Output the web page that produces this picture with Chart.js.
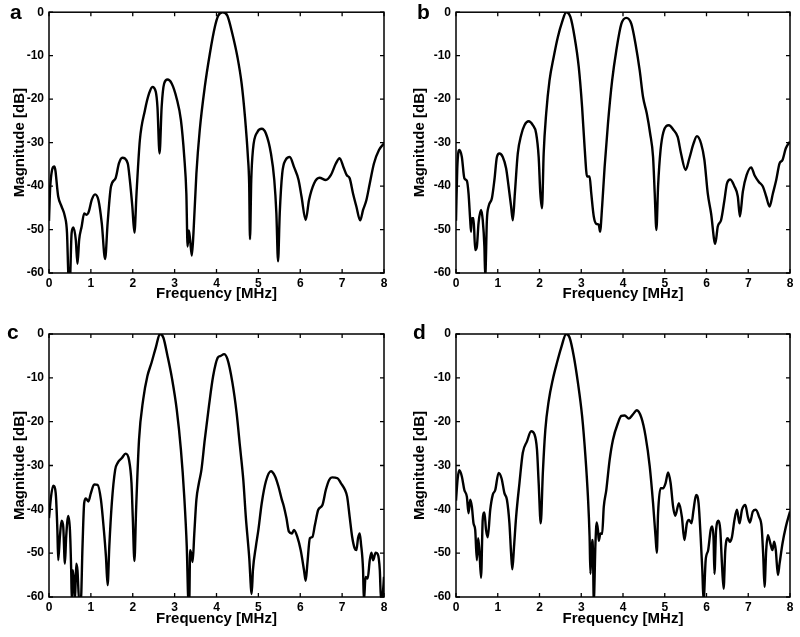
<!DOCTYPE html>
<html lang="en">
<head>
    <meta charset="UTF-8">
    <title>Magnitude spectra a-d</title>
    <script src="https://cdn.jsdelivr.net/npm/chart.js"></script>
    <style>
        body {
            margin: 0;
            background: #fff;
            width: 800px;
            height: 637px;
            position: relative;
            overflow: hidden;
        }

        canvas {
            position: absolute;
        }
    </style>
</head>
<body>

    <canvas id="chartA" width="400" height="318" style="left:0;top:0"></canvas>
    <canvas id="chartB" width="400" height="318" style="left:400px;top:0"></canvas>
    <canvas id="chartC" width="400" height="317" style="left:0;top:320px"></canvas>
    <canvas id="chartD" width="400" height="317" style="left:400px;top:320px"></canvas>

    <script>
        // panel a
        const freqA = [0, 0.03, 0.13, 0.22, 0.30, 0.38, 0.43, 0.46, 0.48, 0.50,
            0.51, 0.54, 0.58, 0.64, 0.68, 0.72, 0.78, 0.84, 0.90, 0.95,
            1.02, 1.10, 1.18, 1.26, 1.34, 1.40, 1.48, 1.59, 1.67, 1.75,
            1.88, 1.93, 1.99, 2.04, 2.09, 2.17, 2.29, 2.39, 2.47, 2.55,
            2.59, 2.64, 2.69, 2.75, 2.83, 2.93, 3.05, 3.15, 3.23, 3.28,
            3.31, 3.34, 3.37, 3.41, 3.45, 3.52, 3.60, 3.72, 3.84, 3.96,
            4.04, 4.15, 4.26, 4.38, 4.50, 4.60, 4.68, 4.75, 4.78, 4.80,
            4.83, 4.87, 4.98, 5.08, 5.18, 5.30, 5.38, 5.43, 5.47, 5.51,
            5.57, 5.65, 5.75, 5.85, 5.96, 6.03, 6.13, 6.21, 6.33, 6.46,
            6.61, 6.73, 6.85, 6.94, 7.03, 7.11, 7.18, 7.26, 7.34, 7.43,
            7.50, 7.58, 7.66, 7.76, 7.88, 8.0];
        const magA = [-48, -40, -35.5, -42.4, -44.7, -47, -50.8, -60, -64, -64,
            -60, -50.8, -49.5, -52.4, -57.9, -52.4, -49.3, -46.3, -46.6, -45.9,
            -43.2, -41.9, -43.2, -48.5, -56.8, -48.5, -40.1, -38.2, -34.8, -33.5,
            -34.8, -38.6, -44.7, -50.7, -41.7, -29.4, -22.6, -18.7, -17.2, -18.3,
            -21.8, -32.5, -21.8, -16.4, -15.5, -16.4, -19.9, -24.8, -33.3, -41.7,
            -53.9, -50.2, -52.4, -56.0, -50.8, -37.1, -27.1, -17.2, -9.6, -3.4,
            -0.8, 0, -0.8, -5, -10.3, -16.4, -24.1, -33.3, -39.4, -52.2,
            -38.6, -31.7, -27.5, -26.8, -27.9, -32.5, -38.6, -46.3, -57.3, -46.3,
            -37.1, -34.0, -33.3, -35.6, -38.6, -42.4, -47.8, -43.2, -39.4, -38.1,
            -38.6, -37.5, -34.8, -33.6, -35.6, -37.5, -38.2, -41.7, -44.7, -47.9,
            -45.5, -43.2, -39.4, -34.8, -31.7, -30.2];

        // panel b
        const freqB = [0, 0.03, 0.08, 0.14, 0.20, 0.26, 0.30, 0.34, 0.36, 0.38,
            0.42, 0.46, 0.50, 0.54, 0.60, 0.64, 0.68, 0.70, 0.74, 0.78,
            0.86, 0.92, 0.98, 1.04, 1.12, 1.20, 1.26, 1.32, 1.36, 1.41,
            1.48, 1.56, 1.64, 1.74, 1.84, 1.92, 1.98, 2.02, 2.06, 2.10,
            2.16, 2.24, 2.34, 2.44, 2.54, 2.64, 2.74, 2.84, 2.94, 3.02,
            3.08, 3.14, 3.20, 3.24, 3.30, 3.36, 3.42, 3.45, 3.50, 3.56,
            3.64, 3.74, 3.84, 3.96, 4.08, 4.20, 4.30, 4.40, 4.48, 4.57,
            4.65, 4.72, 4.76, 4.80, 4.84, 4.90, 4.97, 5.10, 5.21, 5.31,
            5.39, 5.50, 5.59, 5.69, 5.77, 5.87, 5.95, 6.03, 6.11, 6.21,
            6.27, 6.35, 6.43, 6.49, 6.57, 6.67, 6.75, 6.80, 6.87, 6.96,
            7.07, 7.15, 7.25, 7.35, 7.43, 7.51, 7.59, 7.67, 7.75, 7.82,
            7.90, 8.0];
        const magB = [-48, -36, -31.7, -33.3, -38.2, -38.8, -41.7, -47.8, -50.5, -47.4,
            -47.4, -54.7, -53.9, -48.5, -45.5, -47.8, -53.9, -61, -47.8, -44.7,
            -42.8, -38.6, -33.3, -32.5, -33.3, -35.9, -40.1, -44.7, -47.9, -41.7,
            -32.5, -28.3, -26.0, -25.1, -26.0, -27.9, -33.3, -41.7, -45.1, -32.5,
            -23.3, -15.7, -10.3, -5.7, -2.3, 0, -1.1, -5.7, -12.6, -21.8,
            -31.0, -37.8, -37.8, -41.7, -47.0, -48.7, -48.9, -50.5, -44.7, -35.6,
            -25.6, -15.7, -8.8, -2.7, -1.3, -2.7, -7.3, -13.4, -19.5, -23.3,
            -27.9, -33.3, -41.7, -50.1, -40.1, -31.7, -27.5, -26.0, -27.1, -28.7,
            -32.5, -36.3, -33.6, -30.2, -28.5, -30.2, -34.0, -41.7, -46.3, -53.3,
            -49.3, -47.8, -43.2, -39.4, -38.5, -40.1, -42.4, -47.0, -41.3, -37.5,
            -35.7, -37.5, -39.0, -40.1, -42.4, -44.7, -41.7, -38.6, -34.8, -34.0,
            -31.3, -29.8];

        // panel c
        const freqC = [0, 0.05, 0.10, 0.16, 0.20, 0.22, 0.26, 0.30, 0.34, 0.38,
            0.41, 0.46, 0.50, 0.53, 0.545, 0.57, 0.60, 0.62, 0.65, 0.68,
            0.72, 0.76, 0.80, 0.84, 0.88, 0.94, 1.00, 1.08, 1.16, 1.24,
            1.31, 1.36, 1.40, 1.44, 1.50, 1.58, 1.64, 1.74, 1.83, 1.91,
            1.97, 2.00, 2.04, 2.08, 2.15, 2.25, 2.35, 2.45, 2.55, 2.65,
            2.73, 2.83, 2.94, 3.05, 3.15, 3.23, 3.29, 3.33, 3.35, 3.37,
            3.40, 3.43, 3.47, 3.52, 3.58, 3.64, 3.72, 3.82, 3.92, 4.03,
            4.10, 4.18, 4.26, 4.38, 4.48, 4.56, 4.64, 4.70, 4.78, 4.84,
            4.87, 4.94, 5.00, 5.08, 5.18, 5.30, 5.40, 5.48, 5.56, 5.61,
            5.67, 5.73, 5.80, 5.85, 5.93, 6.01, 6.09, 6.13, 6.17, 6.23,
            6.29, 6.35, 6.43, 6.53, 6.61, 6.69, 6.76, 6.89, 6.97, 7.07,
            7.12, 7.18, 7.24, 7.30, 7.34, 7.38, 7.42, 7.45, 7.50, 7.52,
            7.56, 7.61, 7.66, 7.70, 7.74, 7.80, 7.85, 7.90, 7.93, 7.97,
            8.0];
        const magC = [-42, -37, -34.6, -36.3, -44.7, -51.6, -46.3, -42.6, -44, -52.4,
            -46.3, -41.5, -44.7, -53.9, -61, -53.9, -57, -61, -52.4, -53.9,
            -61, -61, -48.5, -38.6, -37.5, -38.2, -36.3, -34.3, -34.4, -37.8,
            -44.7, -50.8, -57.3, -48.5, -38.6, -31.0, -29.4, -28.3, -27.3, -28.7,
            -34.0, -41.7, -51.8, -40.1, -24.1, -14.9, -9.6, -6.5, -3.1, 0,
            -0.8, -5.0, -10.3, -17.2, -26.4, -37.1, -48.5, -61, -61, -49.3,
            -50.2, -52, -45.5, -37.8, -34.0, -31.0, -24.1, -16.4, -9.6, -5.4,
            -5.0, -4.6, -5.7, -11.1, -18.0, -25.6, -33.3, -41.7, -50.8, -59.3,
            -53.9, -48.5, -44.7, -38.6, -33.6, -31.3, -32.5, -34.8, -37.8, -39.4,
            -42.0, -45.1, -45.5, -44.7, -46.3, -49.3, -53.9, -56.3, -52.4, -46.6,
            -46.3, -43.6, -40.1, -39.0, -35.6, -33.3, -32.7, -32.9, -34.0, -35.6,
            -37.1, -41.7, -46.3, -48.9, -49.3, -46.6, -45.5, -47.8, -53.9, -61,
            -55.4, -55.8, -51.6, -49.9, -51.6, -49.9, -50.2, -53.9, -61, -59.3,
            -55.4];

        // panel d
        const freqD = [0, 0.04, 0.08, 0.14, 0.20, 0.26, 0.30, 0.34, 0.38, 0.42,
            0.46, 0.50, 0.53, 0.56, 0.60, 0.64, 0.68, 0.72, 0.76, 0.82,
            0.88, 0.94, 1.02, 1.09, 1.16, 1.22, 1.28, 1.32, 1.35, 1.39,
            1.44, 1.52, 1.60, 1.70, 1.80, 1.88, 1.94, 1.98, 2.03, 2.08,
            2.14, 2.22, 2.32, 2.42, 2.52, 2.64, 2.72, 2.82, 2.92, 3.02,
            3.10, 3.16, 3.20, 3.22, 3.26, 3.28, 3.30, 3.34, 3.37, 3.40,
            3.42, 3.46, 3.50, 3.54, 3.60, 3.68, 3.76, 3.88, 3.96, 4.04,
            4.14, 4.24, 4.33, 4.44, 4.54, 4.64, 4.72, 4.78, 4.81, 4.84,
            4.90, 4.96, 5.02, 5.08, 5.14, 5.20, 5.25, 5.34, 5.41, 5.47,
            5.53, 5.58, 5.64, 5.69, 5.75, 5.81, 5.86, 5.90, 5.93, 5.98,
            6.04, 6.10, 6.14, 6.17, 6.19, 6.23, 6.29, 6.33, 6.37, 6.41,
            6.45, 6.51, 6.56, 6.61, 6.67, 6.73, 6.79, 6.85, 6.93, 6.99,
            7.04, 7.11, 7.18, 7.26, 7.32, 7.36, 7.39, 7.43, 7.47, 7.53,
            7.58, 7.62, 7.66, 7.71, 7.75, 7.82, 7.90, 8.0];
        const magD = [-38, -33, -31.1, -32.5, -35.6, -37.1, -40.9, -37.8, -39.4, -43.2,
            -44.7, -51.6, -46.6, -49.3, -55.6, -42.4, -40.7, -44.7, -46.4, -40.1,
            -36.7, -35.6, -31.7, -32.9, -36.3, -37.8, -43.2, -50.1, -53.7, -48.5,
            -41.7, -34.0, -27.1, -24.5, -22.2, -22.9, -26.4, -34.0, -43.2, -31.7,
            -21.8, -15.3, -10.3, -6.5, -3.1, 0, -0.8, -5.0, -11.1, -18.7,
            -27.9, -37.1, -46.3, -54.7, -47.0, -49.3, -61, -47.8, -43.0, -44.7,
            -47.2, -45.5, -45.6, -39.4, -35.6, -28.7, -24.1, -20.3, -18.7, -18.6,
            -19.3, -18.3, -17.4, -19.1, -23.3, -30.2, -38.6, -46.3, -49.9, -40.9,
            -35.2, -35.2, -34.0, -31.6, -34.0, -39.4, -41.5, -38.6, -41.7, -47.0,
            -43.2, -42.4, -43.2, -40.1, -36.7, -38.6, -46.3, -53.9, -61, -51.6,
            -49.3, -44.7, -43.9, -47.0, -54.7, -44.7, -42.6, -44.7, -52.4, -58.1,
            -49.3, -46.6, -47.4, -46.3, -42.4, -40.1, -43.2, -40.1, -39.0, -41.7,
            -43.0, -40.5, -40.1, -41.7, -44.0, -50.8, -57.7, -49.3, -45.9, -47.8,
            -49.3, -47.4, -49.3, -55.0, -52.4, -47.8, -44.0, -40.5];

        const xTicks = [0, 1, 2, 3, 4, 5, 6, 7, 8];
        const yTicks = [-60, -50, -40, -30, -20, -10, 0];

        const FONT = "'Liberation Sans', Arial, sans-serif";

        // box, inward ticks on all four sides, panel letter
        const framePlugin = {
            id: "frame",
            afterDraw(chart, args, opts) {
                const { ctx, chartArea: a, scales } = chart;
                ctx.save();
                ctx.strokeStyle = "#000";
                ctx.lineWidth = 1.5;
                ctx.strokeRect(a.left, a.top, a.right - a.left, a.bottom - a.top);
                ctx.lineWidth = 1.3;
                ctx.beginPath();
                xTicks.forEach(v => {
                    let px = scales.x.getPixelForValue(v);
                    ctx.moveTo(px, a.bottom); ctx.lineTo(px, a.bottom - 4);
                    ctx.moveTo(px, a.top); ctx.lineTo(px, a.top + 4);
                });
                yTicks.forEach(v => {
                    let py = scales.y.getPixelForValue(v);
                    ctx.moveTo(a.left, py); ctx.lineTo(a.left + 4, py);
                    ctx.moveTo(a.right, py); ctx.lineTo(a.right - 4, py);
                });
                ctx.stroke();
                ctx.fillStyle = "#000";
                ctx.font = "bold 21px " + FONT;
                ctx.textBaseline = "alphabetic";
                ctx.fillText(opts.letter, opts.lx, 18.5);
                ctx.restore();
            }
        };

        function makePanel(id, letter, freq, mag, layout) {
            let points = freq.map((f, i) => ({ x: f, y: mag[i] }));
            return new Chart(document.getElementById(id), {
                type: "line",
                data: {
                    datasets: [{
                        data: points,
                        borderColor: "#000",
                        borderWidth: 2.4,
                        pointRadius: 0,
                        cubicInterpolationMode: "monotone",
                        fill: false,
                        clip: 0
                    }]
                },
                options: {
                    responsive: false,
                    animation: false,
                    layout: { padding: layout.pad },
                    plugins: {
                        legend: { display: false },
                        tooltip: { enabled: false },
                        frame: { letter: letter, lx: layout.lx }
                    },
                    scales: {
                        x: {
                            type: "linear",
                            min: 0,
                            max: 8,
                            afterFit: s => { s.height = layout.xh; },
                            afterBuildTicks: s => { s.ticks = xTicks.map(v => ({ value: v })); },
                            grid: { display: false, drawTicks: false },
                            border: { display: false },
                            ticks: { color: "#000", padding: 3, font: { family: FONT, size: 12, weight: "bold" } },
                            title: {
                                display: true,
                                text: "Frequency [MHz]",
                                color: "#000",
                                padding: 0,
                                font: { family: FONT, size: 15, weight: "bold" }
                            }
                        },
                        y: {
                            min: -60,
                            max: 0,
                            afterFit: s => { s.width = layout.yw; },
                            afterBuildTicks: s => { s.ticks = yTicks.map(v => ({ value: v })); },
                            grid: { display: false, drawTicks: false },
                            border: { display: false },
                            ticks: { color: "#000", padding: 5, font: { family: FONT, size: 12, weight: "bold" } },
                            title: {
                                display: true,
                                text: "Magnitude [dB]",
                                color: "#000",
                                padding: 0,
                                font: { family: FONT, size: 15, weight: "bold" }
                            }
                        }
                    }
                },
                plugins: [framePlugin]
            });
        }

        makePanel("chartA", "a", freqA, magA,
            { pad: { left: 11, right: 16, top: 10, bottom: 15.5 }, yw: 38, xh: 29.5, lx: 10 });
        makePanel("chartB", "b", freqB, magB,
            { pad: { left: 11, right: 10, top: 10, bottom: 15.5 }, yw: 45, xh: 29.5, lx: 17 });
        makePanel("chartC", "c", freqC, magC,
            { pad: { left: 11, right: 16, top: 14, bottom: 9.5 }, yw: 38, xh: 30.5, lx: 7 });
        makePanel("chartD", "d", freqD, magD,
            { pad: { left: 11, right: 10, top: 14, bottom: 9.5 }, yw: 45, xh: 30.5, lx: 13 });
    </script>

</body>
</html>
